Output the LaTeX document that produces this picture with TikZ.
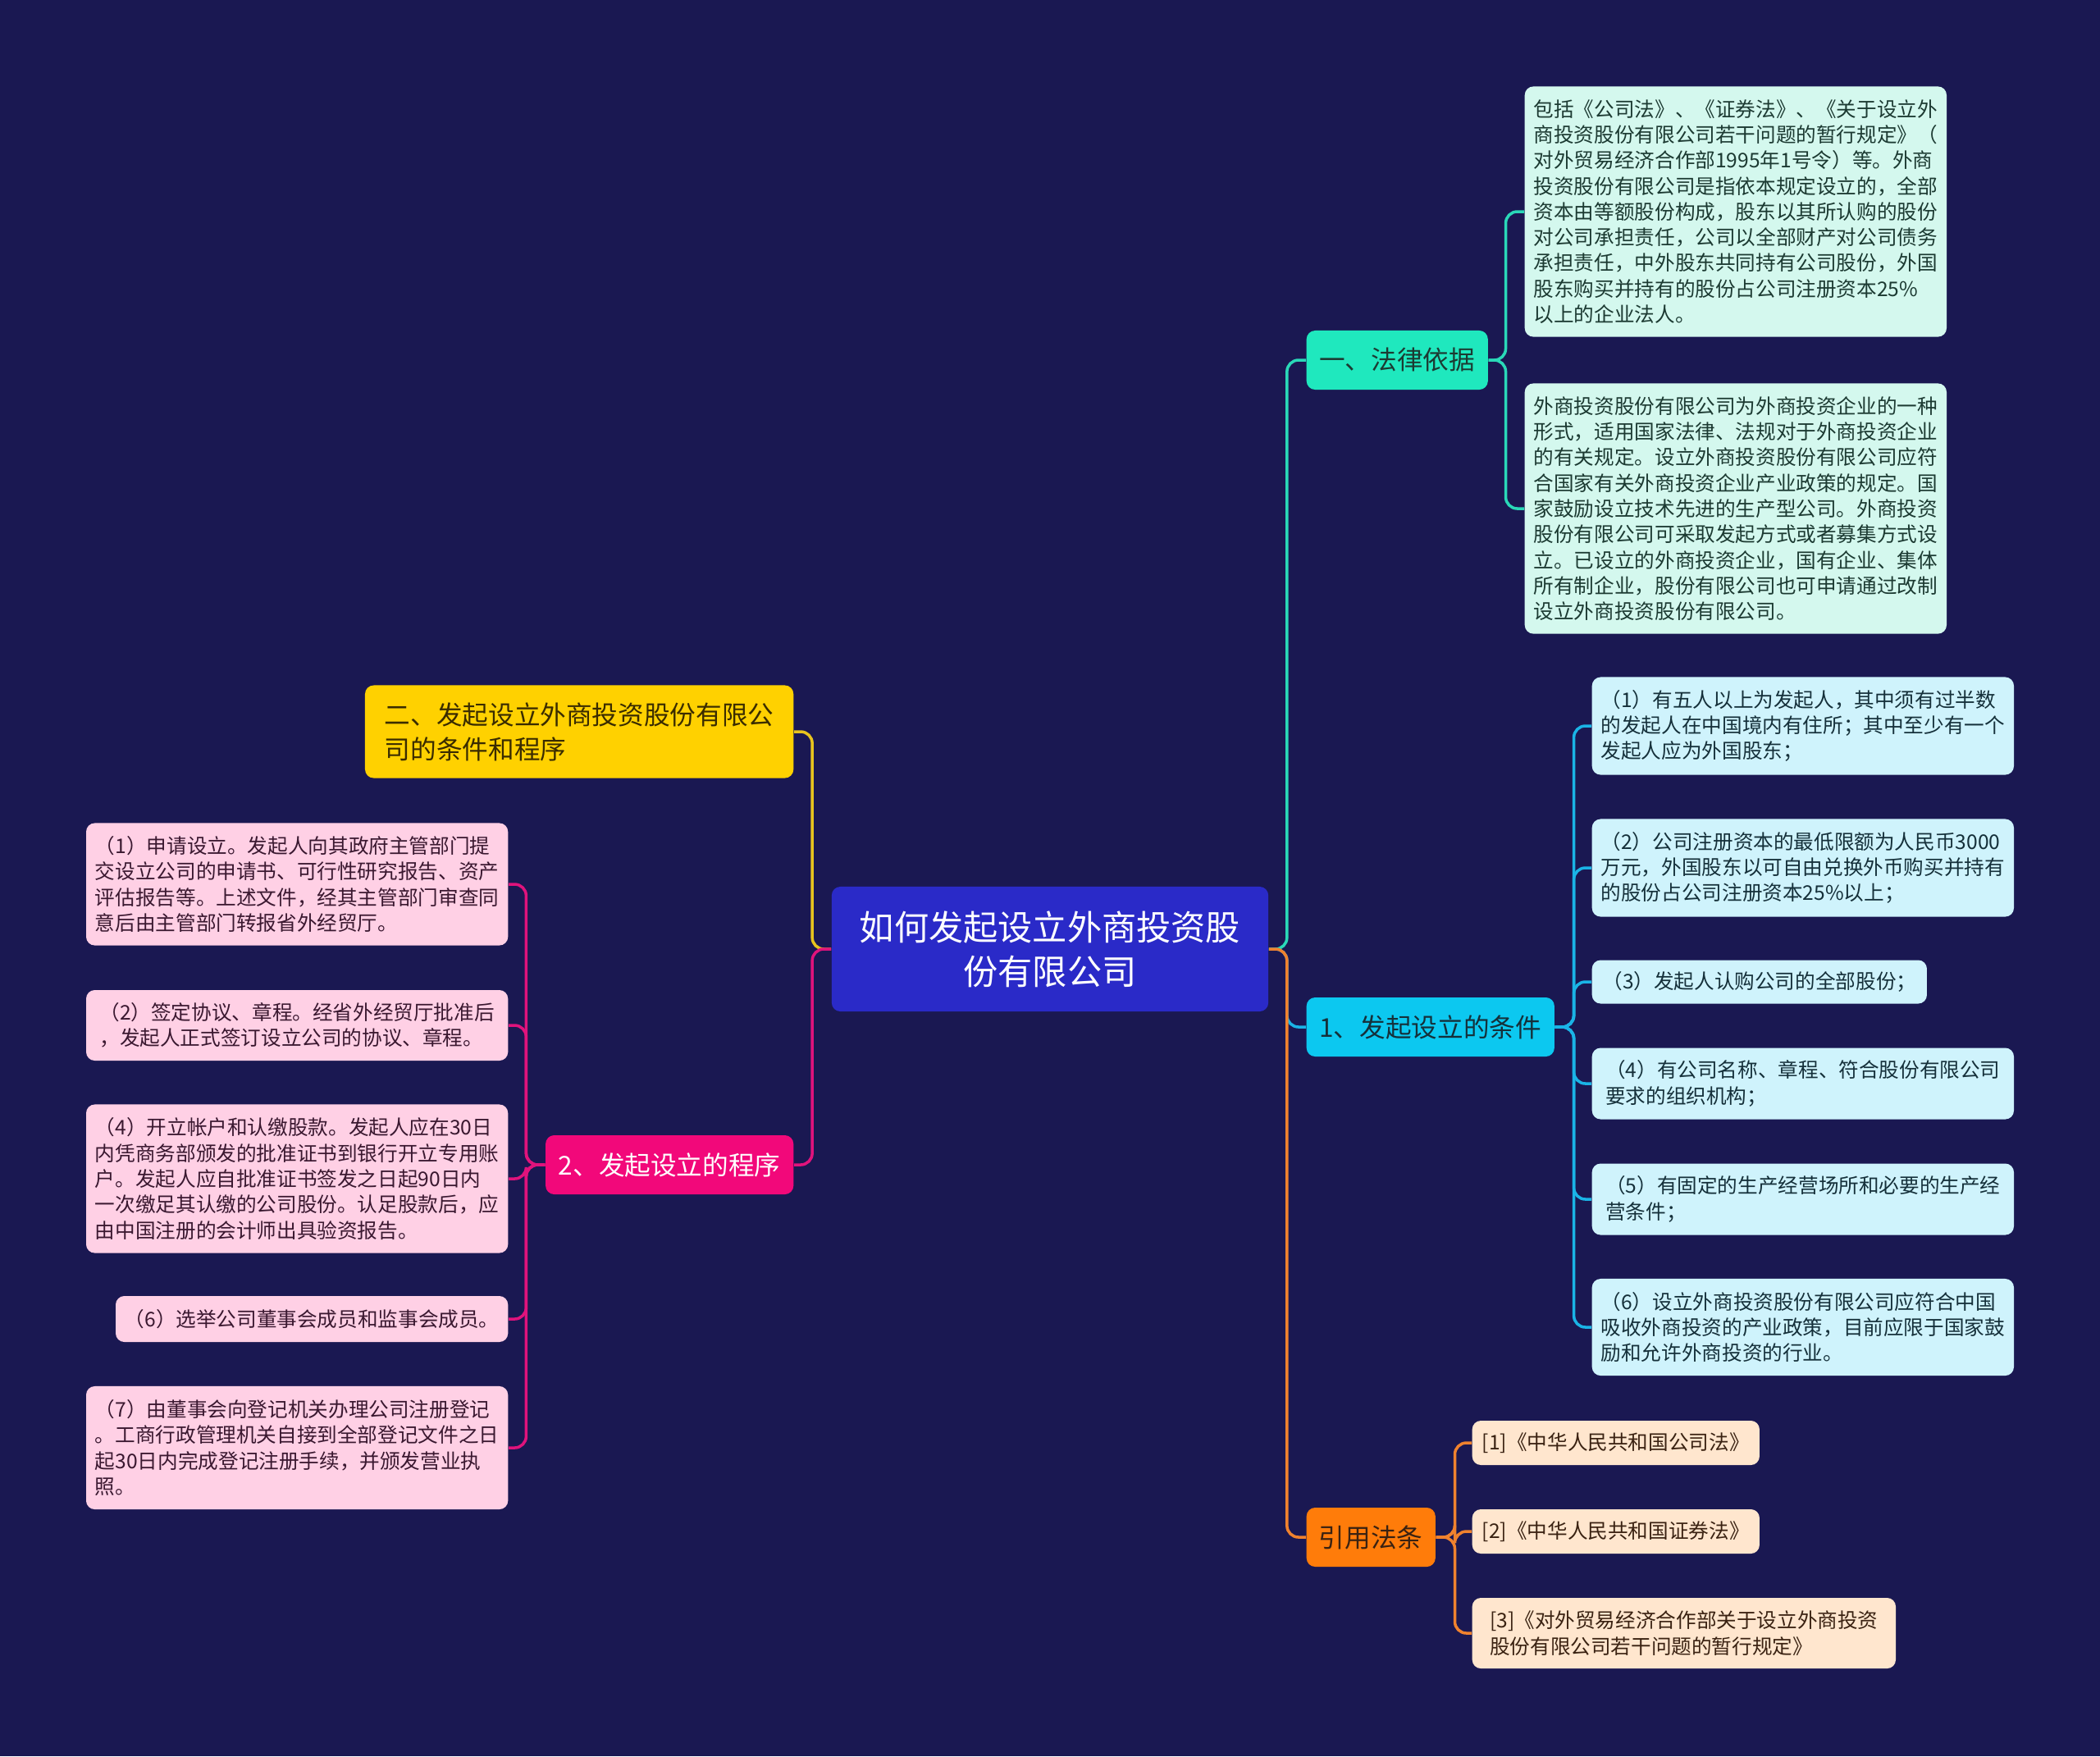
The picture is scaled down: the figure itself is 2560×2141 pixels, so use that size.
\documentclass[tikz,border=0pt]{standalone}
\usepackage{fontspec}
\newfontfamily\cjk{Noto Sans CJK SC}
\usepackage{tikz}
\definecolor{bgnavy}{HTML}{1A1852}
\definecolor{rootblue}{HTML}{2A2AC8}
\definecolor{lawteal}{HTML}{1FE8BE}
\definecolor{lawline}{HTML}{2AD8B8}
\definecolor{lawpale}{HTML}{D4F8EE}
\definecolor{lawtext}{HTML}{1C3A32}
\definecolor{condcyan}{HTML}{0CC8F0}
\definecolor{condline}{HTML}{1AB4E6}
\definecolor{condpale}{HTML}{CFF3FC}
\definecolor{condtext}{HTML}{15303A}
\definecolor{reforange}{HTML}{FF7C0A}
\definecolor{refline}{HTML}{F0822E}
\definecolor{refpale}{HTML}{FFE6CE}
\definecolor{reftext}{HTML}{3A2212}
\definecolor{titleyellow}{HTML}{FFD100}
\definecolor{titleline}{HTML}{E8C41E}
\definecolor{titletext}{HTML}{3A2C00}
\definecolor{procpink}{HTML}{F2087A}
\definecolor{procline}{HTML}{E0137C}
\definecolor{procpale}{HTML}{FFD0E5}
\definecolor{proctext}{HTML}{3A1830}

\begin{document}
\begin{tikzpicture}[
    x=0.01cm, y=-0.01cm,
    every node/.style={font=\cjk},
    box/.style={rounded corners=3pt, inner sep=0pt, align=left},
    hub/.style={box, font=\cjk\fontsize{9pt}{12pt}\selectfont, minimum height=0.72cm},
    leaf/.style={box, font=\cjk\fontsize{7pt}{8.9pt}\selectfont},
    link/.style={line width=1pt, rounded corners=4pt},
]

% --- Background (fixes the page size) ---
\fill[bgnavy] (0,0) rectangle (2560,2141);

% --- Root topic ---
\node[box, fill=rootblue, text=white, align=center,
      font=\cjk\fontsize{12pt}{15.3pt}\selectfont,
      minimum width=5.32cm, minimum height=1.52cm]
     (root) at (1280,1157) {如何发起设立外商投资股\\份有限公司};

% --- Right side: main branches ---
\node[hub, fill=lawteal, text=lawtext, minimum width=2.21cm, anchor=west]
     (law) at (1592,439) {一、法律依据};
\node[hub, fill=condcyan, text=condtext, minimum width=3.02cm, anchor=west]
     (cond) at (1592,1252) {1、发起设立的条件};
\node[hub, fill=reforange, text=reftext, minimum width=1.57cm, anchor=west]
     (ref) at (1592,1874) {引用法条};

% --- Legal basis ---
\node[leaf, fill=lawpale, text=lawtext, minimum width=5.14cm,
      minimum height=3.05cm, anchor=west] (law1) at (1858,258)
     {包括《公司法》、《证券法》、《关于设立外\\
      商投资股份有限公司若干问题的暂行规定》（\\
      对外贸易经济合作部1995年1号令）等。外商\\
      投资股份有限公司是指依本规定设立的，全部\\
      资本由等额股份构成，股东以其所认购的股份\\
      对公司承担责任，公司以全部财产对公司债务\\
      承担责任，中外股东共同持有公司股份，外国\\
      股东购买并持有的股份占公司注册资本25\%\\
      以上的企业法人。};
\node[leaf, fill=lawpale, text=lawtext, minimum width=5.14cm,
      minimum height=3.05cm, anchor=west] (law2) at (1858,620)
     {外商投资股份有限公司为外商投资企业的一种\\
      形式，适用国家法律、法规对于外商投资企业\\
      的有关规定。设立外商投资股份有限公司应符\\
      合国家有关外商投资企业产业政策的规定。国\\
      家鼓励设立技术先进的生产型公司。外商投资\\
      股份有限公司可采取发起方式或者募集方式设\\
      立。已设立的外商投资企业，国有企业、集体\\
      所有制企业，股份有限公司也可申请通过改制\\
      设立外商投资股份有限公司。};

% --- Conditions ---
\node[leaf, fill=condpale, text=condtext, minimum width=5.14cm,
      minimum height=1.19cm, anchor=west] (cond1) at (1940,885)
     {（1）有五人以上为发起人，其中须有过半数\\
      的发起人在中国境内有住所；其中至少有一个\\
      发起人应为外国股东；};
\node[leaf, fill=condpale, text=condtext, minimum width=5.14cm,
      minimum height=1.19cm, anchor=west] (cond2) at (1940,1058)
     {（2）公司注册资本的最低限额为人民币3000\\
      万元，外国股东以可自由兑换外币购买并持有\\
      的股份占公司注册资本25\%以上；};
\node[leaf, fill=condpale, text=condtext, minimum width=4.08cm,
      minimum height=0.53cm, anchor=west] (cond3) at (1940,1197)
     {（3）发起人认购公司的全部股份；};
\node[leaf, fill=condpale, text=condtext, minimum width=5.14cm,
      minimum height=0.87cm, anchor=west] (cond4) at (1940,1321)
     {（4）有公司名称、章程、符合股份有限公司\\
      要求的组织机构；};
\node[leaf, fill=condpale, text=condtext, minimum width=5.14cm,
      minimum height=0.87cm, anchor=west] (cond5) at (1940,1462)
     {（5）有固定的生产经营场所和必要的生产经\\
      营条件；};
\node[leaf, fill=condpale, text=condtext, minimum width=5.14cm,
      minimum height=1.18cm, anchor=west] (cond6) at (1940,1618)
     {（6）设立外商投资股份有限公司应符合中国\\
      吸收外商投资的产业政策，目前应限于国家鼓\\
      励和允许外商投资的行业。};

% --- Cited laws ---
\node[leaf, fill=refpale, text=reftext, minimum width=3.50cm,
      minimum height=0.54cm, anchor=west] (ref1) at (1794,1759)
     {[1]《中华人民共和国公司法》};
\node[leaf, fill=refpale, text=reftext, minimum width=3.50cm,
      minimum height=0.54cm, anchor=west] (ref2) at (1794,1867)
     {[2]《中华人民共和国证券法》};
\node[leaf, fill=refpale, text=reftext, minimum width=5.16cm,
      minimum height=0.86cm, anchor=west] (ref3) at (1794,1991)
     {[3]《对外贸易经济合作部关于设立外商投资\\
      股份有限公司若干问题的暂行规定》};

% --- Left side: title and procedure ---
\node[hub, fill=titleyellow, text=titletext, minimum width=5.22cm,
      minimum height=1.13cm, anchor=east] (title) at (968,892)
     {二、发起设立外商投资股份有限公\\司的条件和程序};
\node[hub, fill=procpink, text=white, minimum width=3.02cm, anchor=east]
     (proc) at (968,1420) {2、发起设立的程序};

\node[leaf, fill=procpale, text=proctext, minimum width=5.14cm,
      minimum height=1.49cm, anchor=east] (proc1) at (620,1078)
     {（1）申请设立。发起人向其政府主管部门提\\
      交设立公司的申请书、可行性研究报告、资产\\
      评估报告等。上述文件，经其主管部门审查同\\
      意后由主管部门转报省外经贸厅。};
\node[leaf, fill=procpale, text=proctext, minimum width=5.14cm,
      minimum height=0.86cm, anchor=east] (proc2) at (620,1250)
     {（2）签定协议、章程。经省外经贸厅批准后\\
      ，发起人正式签订设立公司的协议、章程。};
\node[leaf, fill=procpale, text=proctext, minimum width=5.14cm,
      minimum height=1.81cm, anchor=east] (proc4) at (620,1437)
     {（4）开立帐户和认缴股款。发起人应在30日\\
      内凭商务部颁发的批准证书到银行开立专用账\\
      户。发起人应自批准证书签发之日起90日内\\
      一次缴足其认缴的公司股份。认足股款后，应\\
      由中国注册的会计师出具验资报告。};
\node[leaf, fill=procpale, text=proctext, minimum width=4.78cm,
      minimum height=0.56cm, anchor=east] (proc6) at (620,1608)
     {（6）选举公司董事会成员和监事会成员。};
\node[leaf, fill=procpale, text=proctext, minimum width=5.14cm,
      minimum height=1.50cm, anchor=east] (proc7) at (620,1765)
     {（7）由董事会向登记机关办理公司注册登记\\
      。工商行政管理机关自接到全部登记文件之日\\
      起30日内完成登记注册手续，并颁发营业执\\
      照。};

% --- Connectors: root to branches (orange / pink drawn last, on top) ---
\draw[link, lawline] (root.east) -- ++(22,0) |- (law.west);
\draw[link, condline] (root.east) -- ++(22,0) |- (cond.west);
\draw[link, refline] (root.east) -- ++(22,0) |- (ref.west);
\draw[link, titleline] (root.west) -- ++(-23,0) |- (title.east);
\draw[link, procline] (root.west) -- ++(-23,0) |- (proc.east);

% --- Connectors: branches to leaves ---
\foreach \leafname in {law1,law2}
  \draw[link, lawline] (law.east) -- ++(21,0) |- (\leafname.west);
\foreach \leafname in {cond1,cond2,cond3,cond4,cond5,cond6}
  \draw[link, condline] (cond.east) -- ++(23,0) |- (\leafname.west);
\foreach \leafname in {ref1,ref2,ref3}
  \draw[link, refline] (ref.east) -- ++(23,0) |- (\leafname.west);
\foreach \leafname in {proc1,proc2,proc4,proc6,proc7}
  \draw[link, procline] (proc.west) -- ++(-23,0) |- (\leafname.east);

\end{tikzpicture}
\end{document}
